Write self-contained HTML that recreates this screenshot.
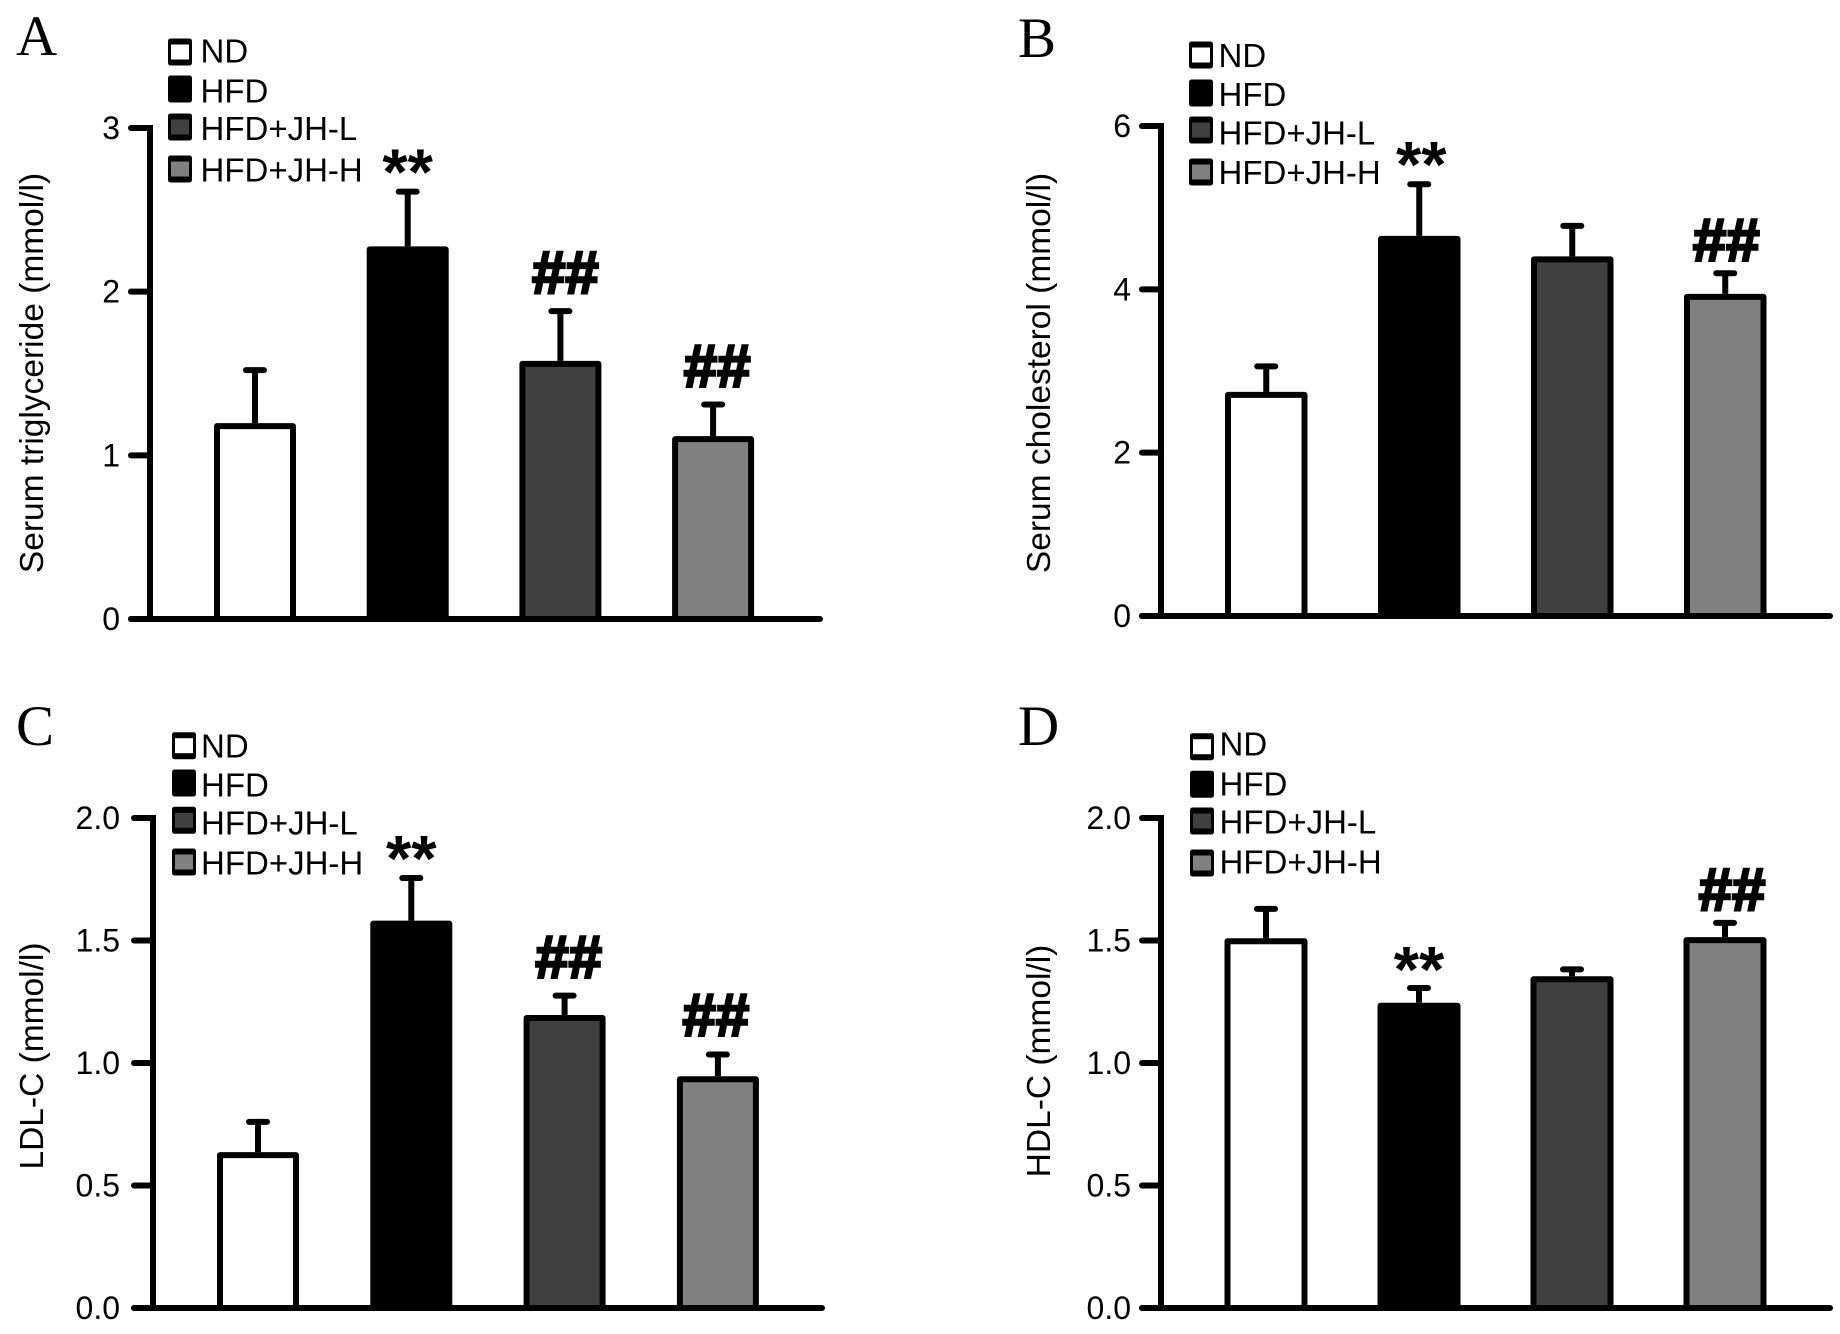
<!DOCTYPE html>
<html>
<head>
<meta charset="utf-8">
<title>Serum lipid bar charts</title>
<style>
html,body{margin:0;padding:0;background:#fff;}
svg{display:block;}
text{font-family:"Liberation Sans",Arial,sans-serif;fill:#000;}
.serif{font-family:"Liberation Serif","Times New Roman",serif;}
</style>
</head>
<body>
<svg id="figure" width="1840" height="1334" viewBox="0 0 1840 1334" xmlns="http://www.w3.org/2000/svg"></svg>
<script>
const groups = ['ND', 'HFD', 'HFD+JH-L', 'HFD+JH-H'];
const fills = ['#ffffff', '#000000', '#404040', '#808080'];

const valuesA = [1.197, 2.277, 1.577, 1.117];
const errorsA = [0.33, 0.34, 0.31, 0.20];
const marksA = ['', '**', '##', '##'];
const ticksA = ['0', '1', '2', '3'];

const valuesB = [2.744, 4.654, 4.404, 3.944];
const errorsB = [0.325, 0.645, 0.385, 0.265];
const marksB = ['', '**', '', '##'];
const ticksB = ['0', '2', '4', '6'];

const valuesC = [0.636, 1.581, 1.196, 0.946];
const errorsC = [0.128, 0.178, 0.083, 0.093];
const marksC = ['', '**', '##', '##'];
const ticksC = ['0.0', '0.5', '1.0', '1.5', '2.0'];

const valuesD = [1.509, 1.246, 1.354, 1.514];
const errorsD = [0.124, 0.064, 0.032, 0.062];
const marksD = ['', '**', '', '##'];
const ticksD = ['0.0', '0.5', '1.0', '1.5', '2.0'];

const NS = 'http://www.w3.org/2000/svg';
const root = document.getElementById('figure');

function make(parent, tag, attrs, txt) {
  const el = document.createElementNS(NS, tag);
  for (const k in attrs) el.setAttribute(k, attrs[k]);
  if (txt !== undefined) el.textContent = txt;
  parent.appendChild(el);
  return el;
}

function drawPanel(p) {
  const g = make(root, 'g', {});
  
  

  const maxVal = Number(p.ticks[p.ticks.length - 1]);
  const yScale = v => p.y0 - (v / maxVal) * (p.y0 - p.yTop);
  const xScale = i => p.barStart + i * p.barStep;
  const SW = 6;

  const letter = make(g, 'text', {x: p.letterX, y: p.letterY, 'font-size': 57, class: 'serif'}, p.letter);
  
  

  const title = make(g, 'text', {
    x: 0, y: 0, 'font-size': 33.5, 'text-anchor': 'middle',
    transform: 'translate(' + p.titleX + ',' + p.titleY + ') rotate(-90)'
  }, p.title);
  
  

  // bars and error bars
  p.values.forEach((v, i) => {
    const x = xScale(i), top = yScale(v), errTop = yScale(v + p.errors[i]);
    const cx = x + p.barW / 2;

    const stem = make(g, 'line', {x1: cx, x2: cx, y1: top, y2: errTop, stroke: '#000', 'stroke-width': 6});
    
    
    const cap = make(g, 'line', {x1: cx - 9, x2: cx + 9, y1: errTop + 1, y2: errTop + 1, stroke: '#000', 'stroke-width': 6, 'stroke-linecap': 'round'});
    
    

    const bar = make(g, 'rect', {
      x: x + SW / 2, y: top + SW / 2, width: p.barW - SW,
      height: p.y0 - top - SW / 2, fill: fills[i], stroke: '#000', 'stroke-width': SW, 'stroke-linejoin': 'round'
    });
    
    

    const m = p.marks[i];
    if (m) {
      const isStar = m === '**';
      const attrs = {
        x: cx + p.markDx[i], y: errTop + (isStar ? 4 : -17) + p.markDy[i],
        'font-size': isStar ? 65 : 60, 'font-weight': 'bold', 'text-anchor': 'middle'
      };
      if (!isStar) {
        attrs.stroke = '#000';
        attrs['stroke-width'] = 2.6;
      }
      const mark = make(g, 'text', attrs, m);
      
      
    }
  });

  // axes
  const yAxis = make(g, 'line', {x1: p.axisX, x2: p.axisX, y1: p.yTop - 3, y2: p.y0 + 3, stroke: '#000', 'stroke-width': 6});
  
  
  const xAxis = make(g, 'line', {x1: p.axisX - 19, x2: p.xEnd, y1: p.y0, y2: p.y0, stroke: '#000', 'stroke-width': 6, 'stroke-linecap': 'round'});
  
  

  p.ticks.forEach(t => {
    const y = yScale(Number(t));
    const tick = make(g, 'line', {x1: p.axisX - 19, x2: p.axisX, y1: y, y2: y, stroke: '#000', 'stroke-width': 6, 'stroke-linecap': 'round'});
    
    
    const lab = make(g, 'text', {x: p.axisX - p.labelGap, y: y + 11, 'font-size': 32, 'text-anchor': 'end'}, t);
    
    
  });

  // legend
  const lg = make(g, 'g', {});
  
  
  groups.forEach((name, i) => {
    const cy = p.swatchY[i];
    const entry = make(lg, 'g', {});
    
    
    make(entry, 'rect', {x: p.legendX, y: cy - 13.5, width: 24, height: 27, rx: 2.5, fill: '#000'});
    if (i !== 1) {
      make(entry, 'rect', {x: p.legendX + 3, y: cy - 7.5, width: 18, height: 15, fill: fills[i]});
    }
    make(entry, 'text', {x: p.legendX + p.legendGap, y: p.textY[i] + 11.5, 'font-size': 33}, name);
  });
}

drawPanel({letter: 'A', letterX: 16, letterY: 55, title: 'Serum triglyceride (mmol/l)', titleX: 43, titleY: 373,
  axisX: 150, y0: 619, yTop: 128, xEnd: 820, barStart: 214, barStep: 152.7, barW: 82, labelGap: 30,
  values: valuesA, errors: errorsA, marks: marksA, ticks: ticksA, markDx: [0, 0, 5, 4], markDy: [0, 0, 0, 0],
  legendX: 168, legendGap: 32.5, swatchY: [52, 89, 127, 169], textY: [51, 91, 128.7, 170]});

drawPanel({letter: 'B', letterX: 1018, letterY: 57, title: 'Serum cholesterol (mmol/l)', titleX: 1050, titleY: 373,
  axisX: 1161, y0: 616, yTop: 126, xEnd: 1830, barStart: 1225, barStep: 153, barW: 82.5, labelGap: 30,
  values: valuesB, errors: errorsB, marks: marksB, ticks: ticksB, markDx: [0, 2, 0, 1], markDy: [0, 0, 0, 5],
  legendX: 1189, legendGap: 29.5, swatchY: [55, 93, 130, 172], textY: [55.3, 94.5, 132.8, 172.5]});

drawPanel({letter: 'C', letterX: 16, letterY: 745, title: 'LDL-C (mmol/l)', titleX: 43, titleY: 1056,
  axisX: 153, y0: 1308, yTop: 818, xEnd: 822, barStart: 217, barStep: 153.3, barW: 82, labelGap: 33,
  values: valuesC, errors: errorsC, marks: marksC, ticks: ticksC, markDx: [0, 0, 4, -2], markDy: [0, 0, 0, -1],
  legendX: 172, legendGap: 29, swatchY: [745.7, 783, 820.3, 862], textY: [746, 785, 823, 863]});

drawPanel({letter: 'D', letterX: 1018, letterY: 745, title: 'HDL-C (mmol/l)', titleX: 1050, titleY: 1061,
  axisX: 1161, y0: 1308, yTop: 818, xEnd: 1830, barStart: 1224.5, barStep: 153, barW: 83, labelGap: 30,
  values: valuesD, errors: errorsD, marks: marksD, ticks: ticksD, markDx: [0, 0, 0, 7], markDy: [0, 1, 0, 5],
  legendX: 1190, legendGap: 29.5, swatchY: [746.7, 784.2, 821, 863], textY: [744, 784, 822, 862]});
</script>
</body>
</html>
